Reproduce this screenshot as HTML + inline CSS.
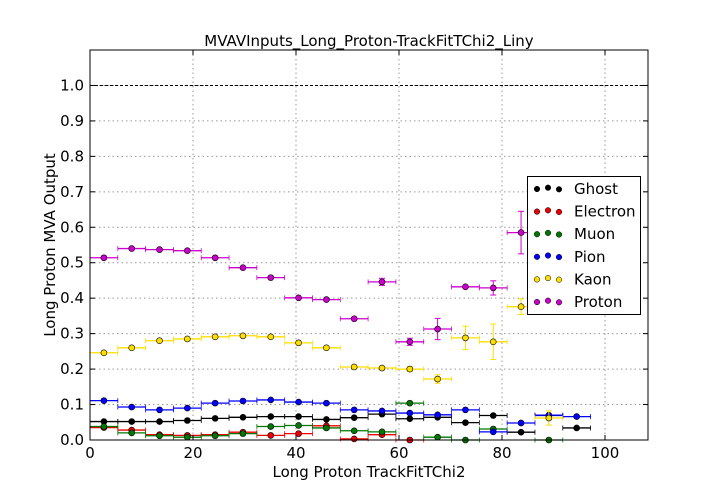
<!DOCTYPE html>
<html><head><meta charset="utf-8"><style>
body{margin:0;background:#fff;}
svg{display:block;font-family:"DejaVu Sans","Liberation Sans",sans-serif;}
</style></head><body>
<svg id="c" width="720" height="504"></svg>
<script>
const centers=[2.7,8.1,13.5,18.9,24.3,29.7,35.1,40.5,45.9,51.3,56.7,62.1,67.5,72.9,78.3,83.7,89.1,94.5];
const ghost=[0.052,0.052,0.052,0.055,0.061,0.064,0.066,0.066,0.058,0.063,0.073,0.06,0.064,0.049,0.069,0.022,0.069,0.034];
const electron=[0.035,0.028,0.015,0.013,0.015,0.022,0.013,0.018,0.04,0.003,0.015,0.0,null,null,null,null,null,null];
const muon=[0.038,0.02,0.012,0.008,0.012,0.018,0.038,0.041,0.034,0.026,0.023,0.104,0.008,0.0,0.031,null,0.0,null];
const pion=[0.111,0.093,0.085,0.09,0.104,0.11,0.113,0.107,0.104,0.085,0.082,0.076,0.071,0.085,0.023,0.048,0.07,0.066];
const kaon=[0.246,0.26,0.28,0.285,0.291,0.294,0.291,0.274,0.26,0.206,0.203,0.2,0.172,0.288,0.277,0.376,0.062,null];
const proton=[0.514,0.54,0.537,0.534,0.514,0.486,0.458,0.401,0.396,0.342,0.446,0.277,0.313,0.432,0.429,0.585,null,null];
const kaonErr=[0.003,0.003,0.003,0.003,0.003,0.003,0.003,0.003,0.003,0.004,0.005,0.007,0.012,0.033,0.05,0.022,0.02,0];
const protonErr=[0.003,0.003,0.003,0.003,0.003,0.003,0.003,0.004,0.004,0.005,0.01,0.01,0.03,0.004,0.02,0.06,0,0];
const xTicks=[0,20,40,60,80,100];
const yTicks=[0,0.1,0.2,0.3,0.4,0.5,0.6,0.7,0.8,0.9,1.0];
const L=90,R=648,T=50,B=440,XMAX=108.35,YMAX=1.1,HALF=2.7;
const sx=v=>L+v/XMAX*(R-L), sy=v=>B-v/YMAX*(B-T);
const svg=document.getElementById('c');const NS='http://www.w3.org/2000/svg';
function mk(t,a,p){const e=document.createElementNS(NS,t);for(const k in a)e.setAttribute(k,a[k]);(p||svg).appendChild(e);return e;}
for(const v of xTicks){const g=mk('line',{x1:sx(v),x2:sx(v),y1:T,y2:B,stroke:'#999','stroke-dasharray':'1.5,3'});
}
for(const v of yTicks){const g=mk('line',{x1:L,x2:R,y1:sy(v),y2:sy(v),stroke:'#999','stroke-dasharray':'1.5,3'});
}
const ref=mk('line',{x1:L,x2:R,y1:sy(1),y2:sy(1),stroke:'#000','stroke-dasharray':'3,2'});

const series=[['ghost',ghost,'#000',null],['electron',electron,'#e00',null],['muon',muon,'#070',null],['pion',pion,'#00f',null],['kaon',kaon,'#fd0',kaonErr],['proton',proton,'#c0c',protonErr]];
for(const [nm,vals,col,err] of series){
 const g=mk('g',{});
 vals.forEach((v,i)=>{if(v===null)return;const c=centers[i];
  mk('line',{x1:sx(c-HALF),x2:sx(c+HALF),y1:sy(v),y2:sy(v),stroke:col,'stroke-width':1.3},g);
  mk('line',{x1:sx(c-HALF),x2:sx(c-HALF),y1:sy(v)-2.5,y2:sy(v)+2.5,stroke:col,'stroke-width':0.8},g);
  mk('line',{x1:sx(c+HALF),x2:sx(c+HALF),y1:sy(v)-2.5,y2:sy(v)+2.5,stroke:col,'stroke-width':0.8},g);
  if(err&&err[i]>0.006){mk('line',{x1:sx(c),x2:sx(c),y1:sy(v+err[i]),y2:sy(v-err[i]),stroke:col},g);
   mk('line',{x1:sx(c)-3,x2:sx(c)+3,y1:sy(v+err[i]),y2:sy(v+err[i]),stroke:col},g);
   mk('line',{x1:sx(c)-3,x2:sx(c)+3,y1:sy(v-err[i]),y2:sy(v-err[i]),stroke:col},g);}
  const p=mk('circle',{cx:sx(c),cy:sy(v),r:3,fill:col,stroke:'#000','stroke-width':0.6},g);
  
 });
}
const fr=mk('rect',{x:L,y:T,width:R-L,height:B-T,fill:'none',stroke:'#000','stroke-width':1});

for(const v of xTicks){mk('line',{x1:sx(v),x2:sx(v),y1:B,y2:B-5,stroke:'#000'});mk('line',{x1:sx(v),x2:sx(v),y1:T,y2:T+5,stroke:'#000'});
 const t=mk('text',{x:sx(v),y:B+18,'text-anchor':'middle','font-size':15});t.textContent=v;
 }
for(const v of yTicks){mk('line',{x1:L,x2:L+5,y1:sy(v),y2:sy(v),stroke:'#000'});mk('line',{x1:R,x2:R-5,y1:sy(v),y2:sy(v),stroke:'#000'});
 const t=mk('text',{x:L-6,y:sy(v)+5,'text-anchor':'end','font-size':15});t.textContent=v.toFixed(1);
 }
const ti=mk('text',{x:(L+R)/2,y:46,'text-anchor':'middle','font-size':15});ti.textContent='MVAVInputs_Long_Proton-TrackFitTChi2_Liny';

const xl=mk('text',{x:(L+R)/2,y:477,'text-anchor':'middle','font-size':15});xl.textContent='Long Proton TrackFitTChi2';

const yl=mk('text',{x:55,y:245,'text-anchor':'middle','font-size':15,transform:'rotate(-90 55 245)'});yl.textContent='Long Proton MVA Output';

const lg=mk('g',{});
mk('rect',{x:527.5,y:176.5,width:113,height:138,fill:'#fff',stroke:'#000'},lg);
const names=['Ghost','Electron','Muon','Pion','Kaon','Proton'];
series.forEach((s,i)=>{const y=188+i*22.6;
 const e=mk('g',{},lg);
 [[537,0],[548,-1.3],[559,0.3]].forEach(([x,d])=>mk('circle',{cx:x,cy:y+d+1,r:2.8,fill:s[2],stroke:'#000','stroke-width':0.5},e));
 const t=mk('text',{x:574,y:y+6,'font-size':15},e);t.textContent=names[i];});
</script>
</body></html>
